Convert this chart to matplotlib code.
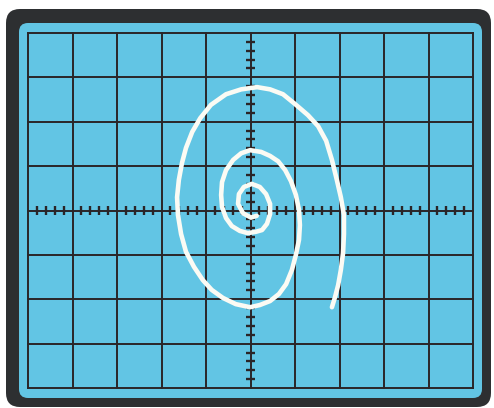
import numpy as np
import matplotlib.pyplot as plt
from matplotlib.patches import FancyBboxPatch

# screen grid: 10 x 8 divisions, 5 subdivisions on the centre axes
x_divs = np.arange(-5, 6)
y_divs = np.arange(-4, 5)

# spiral trace in divisions, traced from the centre outwards
spiral_x = [0.14, 0.01, -0.17, -0.28, -0.26, -0.15, 0.03, 0.21, 0.35, 0.44,
            0.44, 0.37, 0.26, 0.12,
            -0.06, -0.24, -0.42, -0.55, -0.64, -0.66, -0.64, -0.55, -0.39, -0.21,
            -0.01,
            0.24, 0.44, 0.62, 0.78, 0.91, 1.02, 1.09, 1.11, 1.09, 1.02,
            0.93, 0.80, 0.64, 0.44, 0.21, -0.01,
            -0.33, -0.62, -0.87, -1.07, -1.27, -1.45, -1.56, -1.63, -1.65, -1.61,
            -1.54, -1.45, -1.31, -1.13, -0.89, -0.55, -0.21, 0.15, 0.44, 0.73,
            1.00, 1.29, 1.52, 1.70, 1.83, 1.94, 2.03, 2.10, 2.10, 2.08,
            2.03, 1.97, 1.90, 1.83]
spiral_y = [-0.12, -0.16, -0.06, 0.15, 0.37, 0.53, 0.60, 0.53, 0.37, 0.15,
            -0.08, -0.30, -0.44, -0.48,
            -0.51, -0.46, -0.35, -0.17, 0.08, 0.35, 0.64, 0.91, 1.14, 1.29,
            1.36,
            1.32, 1.23, 1.11, 0.91, 0.66, 0.35, 0.01, -0.33, -0.66, -1.00,
            -1.34, -1.66, -1.88, -2.04, -2.13, -2.18,
            -2.11, -1.97, -1.79, -1.57, -1.27, -0.93, -0.53, -0.10, 0.30, 0.69,
            1.07, 1.41, 1.77, 2.08, 2.38, 2.62, 2.73, 2.78, 2.73, 2.62,
            2.40, 2.15, 1.90, 1.57, 1.14, 0.69, 0.30, -0.10, -0.53, -0.96,
            -1.34, -1.68, -1.95, -2.18]

W, H = 494, 408
fig = plt.figure(figsize=(W / 100, H / 100), dpi=100)
fig.patch.set_facecolor('white')

# background in pixel coordinates for the bezel and the screen
bg = fig.add_axes([0, 0, 1, 1])
bg.set_xlim(0, W)
bg.set_ylim(H, 0)
bg.axis('off')
bg.add_patch(FancyBboxPatch((6, 9), 485, 398, boxstyle="round,pad=0,rounding_size=14",
                            facecolor='#2d2f31', edgecolor='none'))
bg.add_patch(FancyBboxPatch((19, 23), 463, 375, boxstyle="round,pad=0,rounding_size=9",
                            facecolor='#62c5e4', edgecolor='none'))

# graticule
ax = fig.add_axes([28 / W, (H - 388) / H, 445 / W, 355 / H])
ax.set_xlim(-5, 5)
ax.set_ylim(-4, 4)
ax.patch.set_alpha(0)
ax.set_xticks([])
ax.set_yticks([])
for s in ax.spines.values():
    s.set_visible(False)

grid_c = '#2a2527'
for x in x_divs:
    ax.axvline(x, color=grid_c, lw=1.4, clip_on=False)
for y in y_divs:
    ax.axhline(y, color=grid_c, lw=1.4, clip_on=False)

sub_x = [v for v in np.arange(-5, 5.01, 0.2) if abs(v - round(v)) > 1e-6]
sub_y = [v for v in np.arange(-4, 4.01, 0.2) if abs(v - round(v)) > 1e-6]
ax.vlines(sub_x, -0.095, 0.095, color=grid_c, lw=1.7)
ax.hlines(sub_y, -0.095, 0.095, color=grid_c, lw=1.7)

ax.plot(spiral_x, spiral_y, color='#fbfbf4', lw=3.3, solid_joinstyle='round',
        solid_capstyle='round')

fig.savefig('out.png', dpi=100)
